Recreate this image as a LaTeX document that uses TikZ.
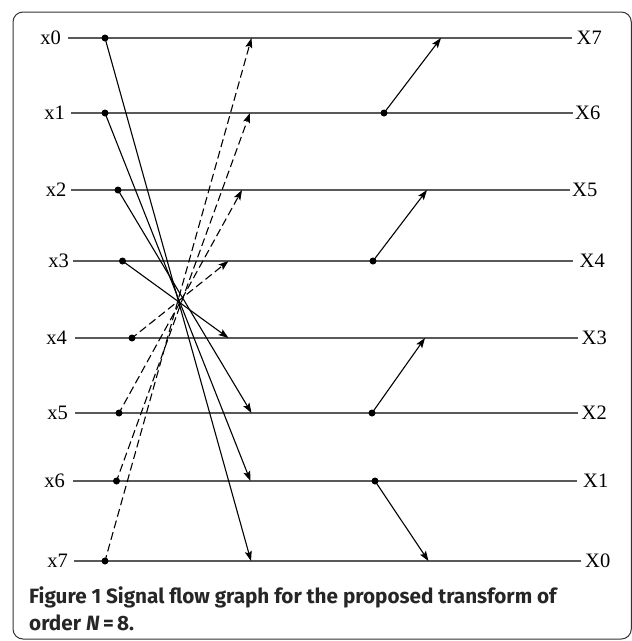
\documentclass[tikz,border=0pt]{standalone}
\usepackage{fontspec}
\setmainfont{Liberation Serif}
\newfontfamily\capfont{Fira Sans}
\usetikzlibrary{arrows.meta}
\begin{document}
\begin{tikzpicture}[x=1pt,y=-1pt,
  sig/.style={draw=black!65, line width=1.1pt},
  llab/.style={font=\fontsize{20.5}{20.5}\selectfont, inner ysep=0pt, anchor=east},
  rlab/.style={font=\fontsize{20.5}{20.5}\selectfont, inner ysep=0pt, anchor=west},
  dot/.style={circle, fill=black, inner sep=0pt, minimum size=7pt},
  arr/.style={draw=black, line width=1.1pt, shorten <=-2pt, -{Stealth[length=10pt,width=7pt,inset=2pt]}},
  darr/.style={arr, dash pattern=on 8pt off 4pt},
  captext/.style={font=\capfont\bfseries\fontsize{20.7}{27}\selectfont, text=black!85, inner sep=0pt, anchor=base west}]
\useasboundingbox (0,0) rectangle (632,641);
\draw[line width=1pt, black!80, rounded corners=10pt] (13,12) rectangle (631.3,639);

% left labels (east anchor = start of the line)
\node[llab, inner xsep=7pt]   (x0) at (68,38)  {x0};
\node[llab, inner xsep=6pt]   (x1) at (71,113) {x1};
\node[llab, inner xsep=4.5pt] (x2) at (71,190) {x2};
\node[llab, inner xsep=4pt]   (x3) at (73,261) {x3};
\node[llab, inner xsep=8pt]   (x4) at (75,338) {x4};
\node[llab, inner xsep=7pt]   (x5) at (75,413) {x5};
\node[llab, inner xsep=8pt]   (x6) at (73,481) {x6};
\node[llab, inner xsep=6pt]   (x7) at (74,561) {x7};
% right labels (west anchor = end of the line)
\node[rlab, inner xsep=4.5pt] (X7) at (572,38)  {X7};
\node[rlab, inner xsep=2pt]   (X6) at (573,113) {X6};
\node[rlab, inner xsep=2pt]   (X5) at (570,190) {X5};
\node[rlab, inner xsep=6.5pt] (X4) at (573,261) {X4};
\node[rlab, inner xsep=3.5pt] (X3) at (578,338) {X3};
\node[rlab, inner xsep=3.5pt] (X2) at (578,413) {X2};
\node[rlab, inner xsep=6pt]   (X1) at (577,481) {X1};
\node[rlab, inner xsep=4pt]   (X0) at (581,561) {X0};
% signal lines
\foreach \a/\b in {x0/X7,x1/X6,x2/X5,x3/X4,x4/X3,x5/X2,x6/X1,x7/X0}
  \draw[sig] (\a.east) -- (\b.west);

% left dots
\node[dot] (a0) at (105,38) {};
\node[dot] (a1) at (105,113) {};
\node[dot] (a2) at (118,190) {};
\node[dot] (a3) at (122.5,261) {};
\node[dot] (a4) at (132,338) {};
\node[dot] (a5) at (119,413) {};
\node[dot] (a6) at (116.5,481) {};
\node[dot] (a7) at (105,561) {};
% arrow targets
\coordinate (t0) at (251.5,38);
\coordinate (t1) at (250,113);
\coordinate (t2) at (242,190);
\coordinate (t3) at (228.5,261);
\coordinate (t4) at (228.5,338);
\coordinate (t5) at (251.5,413);
\coordinate (t6) at (250.5,481);
\coordinate (t7) at (251,561);
% solid
\draw[arr] (a0.center) -- (t7);
\draw[arr] (a1.center) -- (t6);
\draw[arr] (a2.center) -- (t5);
\draw[arr] (a3.center) -- (t4);
% dashed
\draw[darr] (a4.center) -- (t3);
\draw[darr] (a5.center) -- (t2);
\draw[darr] (a6.center) -- (t1);
\draw[darr] (a7.center) -- (t0);

% right butterflies
\node[dot] (b6) at (384,113) {};
\node[dot] (b4) at (373,261) {};
\node[dot] (b2) at (372,413) {};
\node[dot] (b1) at (375,481) {};
\coordinate (u7) at (441,38);
\coordinate (u5) at (427,190);
\coordinate (u3) at (425,338);
\coordinate (u0) at (428.5,561);
\draw[arr] (b6.center) -- (u7);
\draw[arr] (b4.center) -- (u5);
\draw[arr] (b2.center) -- (u3);
\draw[arr] (b1.center) -- (u0);

% caption
\node[captext] (cap1) at (29,603) {Figure 1 Signal flow graph for the proposed transform of};
\node[captext] (cap2) at (29,630) {order \textit{N}\,=\,8.};
\end{tikzpicture}
\end{document}
